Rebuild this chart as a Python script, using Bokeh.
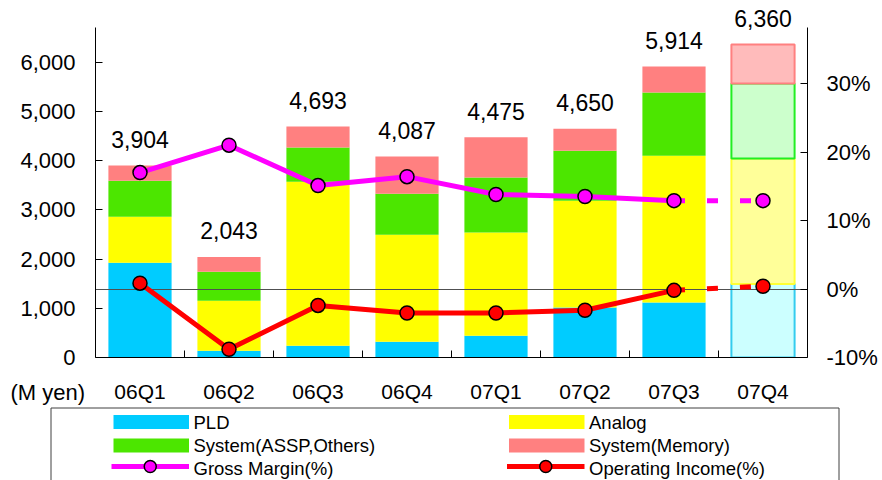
from bokeh.plotting import figure
from bokeh.models import (Range1d, LinearAxis, FixedTicker, Title, ColumnDataSource,
                          NumeralTickFormatter, PrintfTickFormatter, CustomJSTickFormatter)
from bokeh.layouts import column
from bokeh.embed import file_html
from bokeh.resources import INLINE
from bokeh.core.properties import value

# ---- data (M yen, %) ----
quarters = ["06Q1", "06Q2", "06Q3", "06Q4", "07Q1", "07Q2", "07Q3", "07Q4"]
pld = [1925, 136, 238, 319, 441, 1016, 1118, 1492]
analog = [935, 1017, 3332, 2175, 2100, 2169, 2982, 2553]
system_assp = [730, 589, 698, 833, 1118, 1016, 1286, 1524]
system_memory = [314, 301, 425, 760, 816, 449, 528, 791]
sales_total = [3904, 2043, 4693, 4087, 4475, 4650, 5914, 6360]
gross_margin = [17.0, 21.0, 15.1, 16.4, 13.8, 13.5, 12.9, 12.9]
operating_income = [0.85, -8.8, -2.4, -3.5, -3.5, -3.1, -0.2, 0.4]
forecast_index = 7  # 07Q4 is a forecast

series_names = ["PLD", "Analog", "System(ASSP,Others)", "System(Memory)"]
line_names = ["Gross Margin(%)", "Operating Income(%)"]
unit_label = "(M yen)"

# ---- styles ----
FONT = "Liberation Sans"
bar_colors = ["#00CCFF", "#FFFF00", "#4CE600", "#FF8080"]
plan_fill = ["#CCFFFF", "#FFFF99", "#CCFFCC", "#FFBBBB"]
plan_edge = ["#33CCEE", "#FFFF33", "#22EE22", "#FF8080"]
gm_color = "#FF00FF"
oi_color = "#FF0000"

n = len(quarters)
xc = [i + 0.5 for i in range(n)]
keys = ["pld", "analog", "assp", "memory"]


def stack_source(sl):
    return ColumnDataSource(dict(x=xc[sl], pld=pld[sl], analog=analog[sl],
                                 assp=system_assp[sl], memory=system_memory[sl]))


p = figure(width=882, height=405, x_range=Range1d(0, n), y_range=Range1d(0, 7256),
           output_backend="svg", toolbar_location=None,
           min_border_left=95, min_border_right=75, min_border_top=0, min_border_bottom=48)
p.frame_align = False
p.extra_y_ranges = {"pct": Range1d(-10, 42.12)}
p.outline_line_color = None
p.xgrid.visible = False
p.ygrid.visible = False
p.background_fill_color = "white"
p.border_fill_color = "white"

# x axis: labels at quarter centres, small ticks between quarters
xa = p.xaxis[0]
xa.ticker = FixedTicker(ticks=xc, minor_ticks=list(range(1, n)))
xa.formatter = CustomJSTickFormatter(args=dict(names=quarters),
                                     code="return names[Math.floor(tick)] || ''")
xa.major_tick_in = 0
xa.major_tick_out = 0
xa.minor_tick_in = 7
xa.minor_tick_out = 0
xa.minor_tick_line_color = "black"
xa.axis_line_color = "black"
xa.major_label_standoff = 22
xa.major_label_text_font = FONT
xa.major_label_text_font_size = "21px"
xa.major_label_text_color = "black"

# left axis: sales
ya = p.yaxis[0]
ya.ticker = FixedTicker(ticks=[0, 1000, 2000, 3000, 4000, 5000, 6000])
ya.formatter = NumeralTickFormatter(format="0,0")
ya.bounds = (0, 6700)
ya.major_tick_in = 7
ya.major_tick_out = 0
ya.minor_tick_line_color = None
ya.axis_line_color = "black"
ya.major_tick_line_color = "black"
ya.major_label_standoff = 20
ya.major_label_text_font = FONT
ya.major_label_text_font_size = "22px"
ya.major_label_text_color = "black"

# right axis: margins in %
ra = LinearAxis(y_range_name="pct", ticker=FixedTicker(ticks=[-10, 0, 10, 20, 30]),
                formatter=PrintfTickFormatter(format="%d%%"))
ra.bounds = (-10, 38.2)
ra.major_tick_in = 7
ra.major_tick_out = 0
ra.minor_tick_line_color = None
ra.axis_line_color = "black"
ra.major_tick_line_color = "black"
ra.major_label_standoff = 19
ra.major_label_text_font = FONT
ra.major_label_text_font_size = "22px"
ra.major_label_text_color = "black"
p.add_layout(ra, "right")

# unit caption, pulled up level with the quarter labels
p.add_layout(Title(text=unit_label, align="left", offset=-85, standoff=-52,
                   vertical_align="top", text_font=FONT, text_font_size="22px",
                   text_font_style="normal", text_color="black"), "below")

# stacked bars: results, then the forecast quarter in light tints
actual = slice(0, forecast_index)
plan = slice(forecast_index, None)
p.vbar_stack(keys, x="x", width=0.71, source=stack_source(actual),
             fill_color=bar_colors, line_color=None)
p.vbar_stack(keys, x="x", width=0.71, source=stack_source(plan),
             fill_color=plan_fill, line_color=plan_edge, line_width=2)

# zero-percent reference line
p.hspan(y=[0], y_range_name="pct", line_color="#505050", line_width=1.2)

# margin lines: solid for results, dashed into the forecast
for vals, col in ((gross_margin, gm_color), (operating_income, oi_color)):
    p.line(xc[:forecast_index], vals[:forecast_index], y_range_name="pct",
           line_color=col, line_width=5)
    p.line(xc[forecast_index - 1:], vals[forecast_index - 1:], y_range_name="pct",
           line_color=col, line_width=5, line_dash="11 22")
    p.scatter(xc, vals, y_range_name="pct", marker="circle", size=14,
              fill_color=col, line_color="black", line_width=1.5)

# totals above bars
p.text(x=xc, y=sales_total, text=[f"{v:,}" for v in sales_total],
       text_align="center", text_baseline="middle", y_offset=-26,
       text_font=value(FONT), text_font_size="23px", text_color="black")

# ---- legend panel ----
lg = figure(width=882, height=75, x_range=Range1d(0, 882), y_range=Range1d(75, 0),
            output_backend="svg", toolbar_location=None, min_border=0,
            min_border_left=0, min_border_right=0, min_border_top=0, min_border_bottom=0,
            x_axis_type=None, y_axis_type=None)
lg.frame_align = False
lg.outline_line_color = None
lg.xgrid.visible = False
lg.ygrid.visible = False
lg.border_fill_color = "white"

lg.quad(left=[50.5], right=[838.5], top=[2.5], bottom=[120], fill_color=None,
        line_color="#404040", line_width=1)

col_x = [113, 508.5]
row_y = [16.5, 40.0, 62.5]
sw_w = 75.5
for i, name in enumerate(series_names):
    cx = col_x[i % 2]
    cy = row_y[i // 2]
    lg.quad(left=[cx], right=[cx + sw_w], top=[cy - 7], bottom=[cy + 7],
            fill_color=bar_colors[i], line_color=None)
    lg.text(x=[cx + sw_w + 4.5], y=[cy], text=[name], text_baseline="middle",
            text_font=value(FONT), text_font_size="18.5px", text_color="black")
for j, (name, col) in enumerate(zip(line_names, (gm_color, oi_color))):
    cx = col_x[j]
    cy = row_y[2] - 1.5
    lg.line([cx - 2, cx + sw_w], [cy, cy], line_color=col, line_width=5)
    lg.scatter([cx + sw_w / 2 - 1], [cy], marker="circle", size=12,
               fill_color=col, line_color="black", line_width=1.5)
    lg.text(x=[cx + sw_w + 4.5], y=[row_y[2]], text=[name], text_baseline="middle",
            text_font=value(FONT), text_font_size="18.5px", text_color="black")

layout = column(p, lg, spacing=0)
open("out.html", "w").write(file_html(layout, INLINE))
